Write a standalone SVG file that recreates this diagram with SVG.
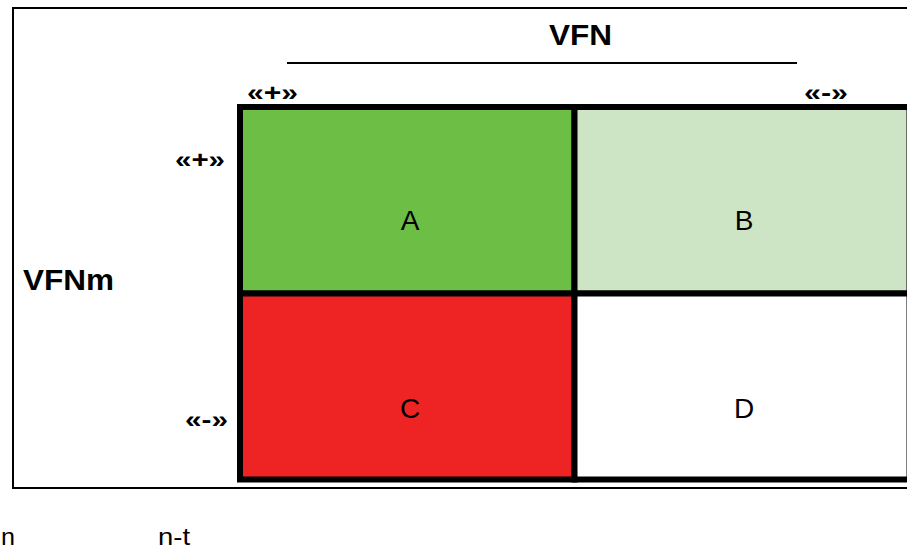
<svg xmlns="http://www.w3.org/2000/svg" width="907" height="550" viewBox="0 0 907 550">
<style>
.t{font-family:"Liberation Sans",Arial,sans-serif;fill:#000}
.b{font-weight:bold}
.cell{stroke:#000;stroke-width:6}
.lbl{font-size:28px;text-anchor:middle}
.sg{font-size:23px;font-weight:bold}
</style>
<rect width="907" height="550" fill="#fff"/>
<g id="frame"><rect x="13" y="8" width="900" height="480" fill="none" stroke="#000" stroke-width="2"/></g>
<g id="header">
<text class="t b" x="549" y="45" font-size="30" textLength="63" lengthAdjust="spacingAndGlyphs">VFN</text>
<line x1="287" y1="63" x2="797" y2="63" stroke="#000" stroke-width="2"/>
<text class="t sg" x="247" y="101" textLength="51" lengthAdjust="spacingAndGlyphs">«+»</text>
<text class="t sg" x="804" y="101" textLength="44" lengthAdjust="spacingAndGlyphs">«-»</text>
</g>
<g id="side">
<text class="t b" x="23" y="290" font-size="29" textLength="91" lengthAdjust="spacingAndGlyphs">VFNm</text>
<text class="t sg" x="175" y="168" textLength="50" lengthAdjust="spacingAndGlyphs">«+»</text>
<text class="t sg" x="185" y="428" textLength="43" lengthAdjust="spacingAndGlyphs">«-»</text>
</g>
<g id="cellA"><rect class="cell" x="240" y="107" width="334.5" height="186.5" fill="#6CBE45"/><text class="t lbl" x="410" y="230">A</text></g>
<g id="cellB"><rect class="cell" x="574.5" y="107" width="335" height="186.5" fill="#CEE5C5"/><text class="t lbl" x="744" y="230">B</text></g>
<g id="cellC"><rect class="cell" x="240" y="293.5" width="334.5" height="186" fill="#EE2424"/><text class="t lbl" x="410" y="418">C</text></g>
<g id="cellD"><rect class="cell" x="574.5" y="293.5" width="335" height="186" fill="#fff"/><text class="t lbl" x="744" y="418">D</text></g>
<g id="footer">
<text class="t" x="1" y="545" font-size="23" textLength="14" lengthAdjust="spacingAndGlyphs">n</text>
<text class="t" x="158" y="545" font-size="23" textLength="32" lengthAdjust="spacingAndGlyphs">n-t</text>
</g>
</svg>
